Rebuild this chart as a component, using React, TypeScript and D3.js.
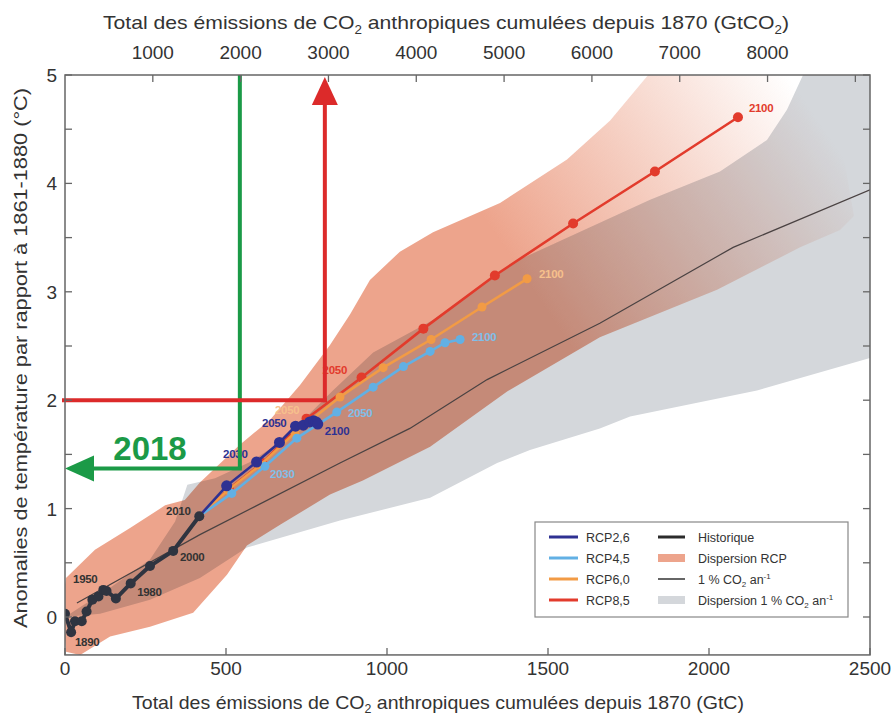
import React from "react";
import * as d3 from "d3";

// ---------- data ----------
const bottomTicks = [0, 500, 1000, 1500, 2000, 2500];
const topTicks = [1000, 2000, 3000, 4000, 5000, 6000, 7000, 8000, 9000];
const topLabels = [1000, 2000, 3000, 4000, 5000, 6000, 7000, 8000];
const yTicks = [0, 0.5, 1, 1.5, 2, 2.5, 3, 3.5, 4, 4.5, 5];
const yLabels = [0, 1, 2, 3, 4, 5];

const histEmis = [0, 19, 31, 52, 67, 85, 104, 119, 129, 158, 204, 264, 336, 417];
const histTemp = [0.03, -0.14, -0.04, -0.04, 0.05, 0.16, 0.19, 0.25, 0.24, 0.17, 0.31, 0.47, 0.61, 0.93];

const rcp26Emis = [417, 502, 595, 666, 716, 740, 760, 772, 780, 785];
const rcp26Temp = [0.93, 1.21, 1.43, 1.61, 1.76, 1.77, 1.8, 1.81, 1.8, 1.78];
const rcp45Emis = [417, 518, 621, 720, 844, 957, 1051, 1134, 1180, 1227];
const rcp45Temp = [0.93, 1.14, 1.39, 1.65, 1.89, 2.12, 2.31, 2.45, 2.53, 2.56];
const rcp60Emis = [417, 506, 606, 714, 854, 988, 1137, 1295, 1435];
const rcp60Temp = [0.93, 1.17, 1.4, 1.7, 2.03, 2.3, 2.56, 2.86, 3.12];
const rcp85Emis = [417, 509, 612, 750, 921, 1113, 1335, 1578, 1832, 2090];
const rcp85Temp = [0.93, 1.18, 1.42, 1.83, 2.21, 2.66, 3.15, 3.63, 4.11, 4.61];

const pctLineEmis = [37, 419, 854, 1071, 1311, 1661, 2075, 2500];
const pctLineTemp = [0.13, 0.76, 1.42, 1.74, 2.19, 2.71, 3.41, 3.94];

// grey 1% CO2 dispersion: upper edge then lower edge
const greyUpperEmis = [0, 140, 264, 342, 380, 466, 575, 677, 832, 957, 1143, 1391, 1817, 2034, 2180, 2242, 2292, 2345, 2600];
const greyUpperTemp = [0, 0.27, 0.53, 0.88, 1.22, 1.28, 1.43, 1.63, 2.09, 2.44, 2.74, 3.27, 3.85, 4.11, 4.4, 4.68, 5.0, 5.4, 5.4];
const greyLowerEmis = [2600, 2500, 2149, 1755, 1661, 1444, 1342, 1134, 854, 565, 419, 264, 109, 0];
const greyLowerTemp = [2.47, 2.39, 2.09, 1.85, 1.74, 1.54, 1.42, 1.1, 0.89, 0.64, 0.36, 0.16, 0.03, 0];

// RCP dispersion: upper edge then lower edge
const rcpUpperEmis = [0, 3, 93, 202, 311, 372, 419, 543, 637, 730, 823, 885, 947, 1040, 1143, 1351, 1559, 1693, 1811, 1910, 2350];
const rcpUpperTemp = [0.3, 0.36, 0.62, 0.82, 1.03, 1.08, 1.24, 1.59, 1.82, 2.14, 2.51, 2.79, 3.11, 3.37, 3.55, 3.82, 4.22, 4.58, 5.0, 5.42, 5.42];
const rcpLowerEmis = [2450, 2407, 2283, 2025, 1661, 1373, 1134, 925, 823, 668, 565, 503, 398, 264, 140, 47, 3, 0];
const rcpLowerTemp = [3.7, 3.57, 3.41, 3.02, 2.58, 2.08, 1.57, 1.26, 1.13, 0.85, 0.66, 0.39, 0.04, -0.09, -0.18, -0.35, -0.32, -0.21];

const histLabels = ["1890", "1950", "1980", "2000", "2010"];
const histLabelEmis = [31, 25, 224, 357, 314];
const histLabelTemp = [-0.23, 0.35, 0.23, 0.55, 0.98];

const rcp26Labels = ["2030", "2050", "2100"];
const rcp26LabelEmis = [491, 612, 807];
const rcp26LabelTemp = [1.5, 1.79, 1.72];
const rcp45Labels = ["2030", "2050", "2100"];
const rcp45LabelEmis = [637, 879, 1264];
const rcp45LabelTemp = [1.32, 1.88, 2.58];
const rcp60Labels = ["2050", "2100"];
const rcp60LabelEmis = [652, 1472];
const rcp60LabelTemp = [1.91, 3.16];
const rcp85Labels = ["2050", "2100"];
const rcp85LabelEmis = [800, 2124];
const rcp85LabelTemp = [2.28, 4.7];

const greenMark = { emis: 543, temp: 1.37, label: "2018" };
const redMark = { emis: 807, temp: 2 };

const C_RCP26 = "#2e3192";
const C_RCP45 = "#62b0e4";
const C_RCP60 = "#f29b45";
const C_RCP85 = "#e23b2c";
const C_HIST = "#2f3440";
const C_SALMON = "#eda48c";
const C_GREY = "#d4d7db";
const C_GREEN = "#1b9a47";
const C_RED = "#dc2a2a";

const zip = (a: number[], b: number[]) => a.map((v, i) => [v, b[i]] as [number, number]);

export default function App() {
  const W = 893, H = 718;
  const x = d3.scaleLinear().domain([0, 2500]).range([65, 870]);
  const xTop = d3.scaleLinear().domain([0, 2500 * 44 / 12]).range([65, 870]);
  const y = d3.scaleLinear().domain([0, 5]).range([617, 75]);
  const yBottom = y(-0.35);
  const line = d3.line<[number, number]>().x(d => x(d[0])).y(d => y(d[1]));
  const area = (up: [number, number][], lo: [number, number][]) => line([...up, ...lo]) + "Z";

  const font = "Liberation Sans, Arial, Helvetica, sans-serif";
  const series = [
    { e: rcp85Emis, t: rcp85Temp, c: C_RCP85, r: 5, w: 2.6 },
    { e: rcp60Emis, t: rcp60Temp, c: C_RCP60, r: 4.5, w: 2.6 },
    { e: rcp45Emis, t: rcp45Temp, c: C_RCP45, r: 4.5, w: 2.6 },
    { e: rcp26Emis, t: rcp26Temp, c: C_RCP26, r: 5.5, w: 2.6 },
  ];
  const labelSets = [
    { l: histLabels, e: histLabelEmis, t: histLabelTemp, c: "#333" },
    { l: rcp26Labels, e: rcp26LabelEmis, t: rcp26LabelTemp, c: C_RCP26 },
    { l: rcp45Labels, e: rcp45LabelEmis, t: rcp45LabelTemp, c: "#80bfe9" },
    { l: rcp60Labels, e: rcp60LabelEmis, t: rcp60LabelTemp, c: "#f6c08c" },
    { l: rcp85Labels, e: rcp85LabelEmis, t: rcp85LabelTemp, c: C_RCP85 },
  ];

  const gx = x(greenMark.emis), gy = y(greenMark.temp);
  const rx = x(redMark.emis), ry = y(redMark.temp);

  return (
    <svg width={W} height={H} style={{ position: "absolute", left: 0, top: 0, background: "#fff" }} fontFamily={font}>
      <defs>
        <clipPath id="plot">
          <rect x={65} y={75} width={805} height={yBottom - 75} />
        </clipPath>
        <linearGradient id="rcpFade" gradientUnits="userSpaceOnUse" x1={560} y1={330} x2={835} y2={145}>
          <stop offset="0" stopColor={C_SALMON} stopOpacity={1} />
          <stop offset="1" stopColor={C_SALMON} stopOpacity={0} />
        </linearGradient>
      </defs>

      <g clipPath="url(#plot)">
        <path d={area(zip(greyUpperEmis, greyUpperTemp), zip(greyLowerEmis, greyLowerTemp))} fill={C_GREY} />
        <path d={area(zip(rcpUpperEmis, rcpUpperTemp), zip(rcpLowerEmis, rcpLowerTemp))} fill="url(#rcpFade)" style={{ mixBlendMode: "multiply" }} />
        <path d={line(zip(pctLineEmis, pctLineTemp)) || ""} fill="none" stroke="#4a4242" strokeWidth={1.2} />
        {series.map((s, i) => (
          <g key={i}>
            <path d={line(zip(s.e, s.t)) || ""} fill="none" stroke={s.c} strokeWidth={s.w} />
            {s.e.slice(1).map((v, j) => (
              <circle key={j} cx={x(v)} cy={y(s.t[j + 1])} r={s.r} fill={s.c} />
            ))}
          </g>
        ))}
        <path d={line(zip(histEmis, histTemp)) || ""} fill="none" stroke={C_HIST} strokeWidth={4} strokeLinejoin="round" />
        {histEmis.map((v, j) => (
          <circle key={j} cx={x(v)} cy={y(histTemp[j])} r={5} fill={C_HIST} />
        ))}
      </g>

      {labelSets.map((s, i) =>
        s.l.map((txt, j) => (
          <text key={i + "-" + j} x={x(s.e[j])} y={y(s.t[j]) + 4} fontSize={11.5} fontWeight="bold" fill={s.c} letterSpacing={-0.3}>
            {txt}
          </text>
        ))
      )}

      {/* annotations */}
      <g stroke={C_GREEN} strokeWidth={4} fill="none">
        <line x1={gx} y1={75} x2={gx} y2={gy} />
        <line x1={gx + 2} y1={gy} x2={90} y2={gy} />
      </g>
      <path d={`M${x(0)},${gy} L${x(0) + 29},${gy - 13} L${x(0) + 29},${gy + 13} Z`} fill={C_GREEN} />
      <text x={150} y={460} fontSize={33} fontWeight="bold" fill={C_GREEN} textAnchor="middle">{greenMark.label}</text>

      <g stroke={C_RED} strokeWidth={4} fill="none">
        <line x1={x(0) - 3} y1={ry} x2={rx + 2} y2={ry} />
        <line x1={rx} y1={ry + 2} x2={rx} y2={103} />
      </g>
      <path d={`M${rx},${77} L${rx + 13},${105} L${rx - 13},${105} Z`} fill={C_RED} />

      {/* frame & ticks */}
      <rect x={65} y={75} width={805} height={yBottom - 75} fill="none" stroke="#666" strokeWidth={1.5} />
      {yTicks.map(t => (
        <g key={"y" + t} stroke="#666" strokeWidth={1.3}>
          <line x1={65} x2={72} y1={y(t)} y2={y(t)} />
          <line x1={863} x2={870} y1={y(t)} y2={y(t)} />
        </g>
      ))}
      {bottomTicks.map(t => (
        <line key={"b" + t} x1={x(t)} x2={x(t)} y1={yBottom} y2={yBottom - 7} stroke="#666" strokeWidth={1.3} />
      ))}
      {topTicks.map(t => (
        <line key={"t" + t} x1={xTop(t)} x2={xTop(t)} y1={75} y2={82} stroke="#666" strokeWidth={1.3} />
      ))}

      <g fill="#333" fontSize={19}>
        {yLabels.map(t => (
          <text key={"yl" + t} x={57} y={y(t) + 7} textAnchor="end">{t}</text>
        ))}
        {bottomTicks.map(t => (
          <text key={"bl" + t} x={x(t)} y={675} textAnchor="middle">{t}</text>
        ))}
        {topLabels.map(t => (
          <text key={"tl" + t} x={xTop(t)} y={59} textAnchor="middle">{t}</text>
        ))}
        <text x={446} y={29} textAnchor="middle" textLength={686} lengthAdjust="spacingAndGlyphs">
          Total des émissions de CO<tspan fontSize={12} dy={5}>2</tspan><tspan dy={-5}> anthropiques cumulées depuis 1870 (GtCO</tspan><tspan fontSize={12} dy={5}>2</tspan><tspan dy={-5}>)</tspan>
        </text>
        <text x={438} y={709} textAnchor="middle" textLength={612} lengthAdjust="spacingAndGlyphs">
          Total des émissions de CO<tspan fontSize={12} dy={4}>2</tspan><tspan dy={-4}> anthropiques cumulées depuis 1870 (GtC)</tspan>
        </text>
        <text transform="translate(27,358) rotate(-90)" textAnchor="middle" textLength={540} lengthAdjust="spacingAndGlyphs">
          Anomalies de température par rapport à 1861-1880 (°C)
        </text>
      </g>

      {/* legend */}
      <g>
        <rect x={535} y={522} width={313} height={95} fill="#fff" stroke="#888" strokeWidth={1.2} />
        {[
          { c: C_RCP26, t: "RCP2,6" },
          { c: C_RCP45, t: "RCP4,5" },
          { c: C_RCP60, t: "RCP6,0" },
          { c: C_RCP85, t: "RCP8,5" },
        ].map((d, i) => (
          <g key={"lg" + i}>
            <line x1={549} x2={578} y1={537 + i * 21} y2={537 + i * 21} stroke={d.c} strokeWidth={3} />
            <text x={586} y={537 + i * 21 + 4.5} fontSize={12.5} fill="#333">{d.t}</text>
          </g>
        ))}
        <line x1={658} x2={685} y1={537} y2={537} stroke="#2b2b2b" strokeWidth={3} />
        <text x={698} y={541.5} fontSize={12.5} fill="#333">Historique</text>
        <rect x={658} y={554} width={27} height={8} fill={C_SALMON} />
        <text x={698} y={562.5} fontSize={12.5} fill="#333">Dispersion RCP</text>
        <line x1={658} x2={685} y1={579} y2={579} stroke="#333" strokeWidth={1.5} />
        <text x={698} y={583.5} fontSize={12.5} fill="#333">1 % CO<tspan fontSize={8} dy={3}>2</tspan><tspan dy={-3}> an</tspan><tspan fontSize={8} dy={-5}>-1</tspan></text>
        <rect x={658} y={596} width={27} height={8} fill={C_GREY} />
        <text x={698} y={604.5} fontSize={12.5} fill="#333">Dispersion 1 % CO<tspan fontSize={8} dy={3}>2</tspan><tspan dy={-3}> an</tspan><tspan fontSize={8} dy={-5}>-1</tspan></text>
      </g>
    </svg>
  );
}
